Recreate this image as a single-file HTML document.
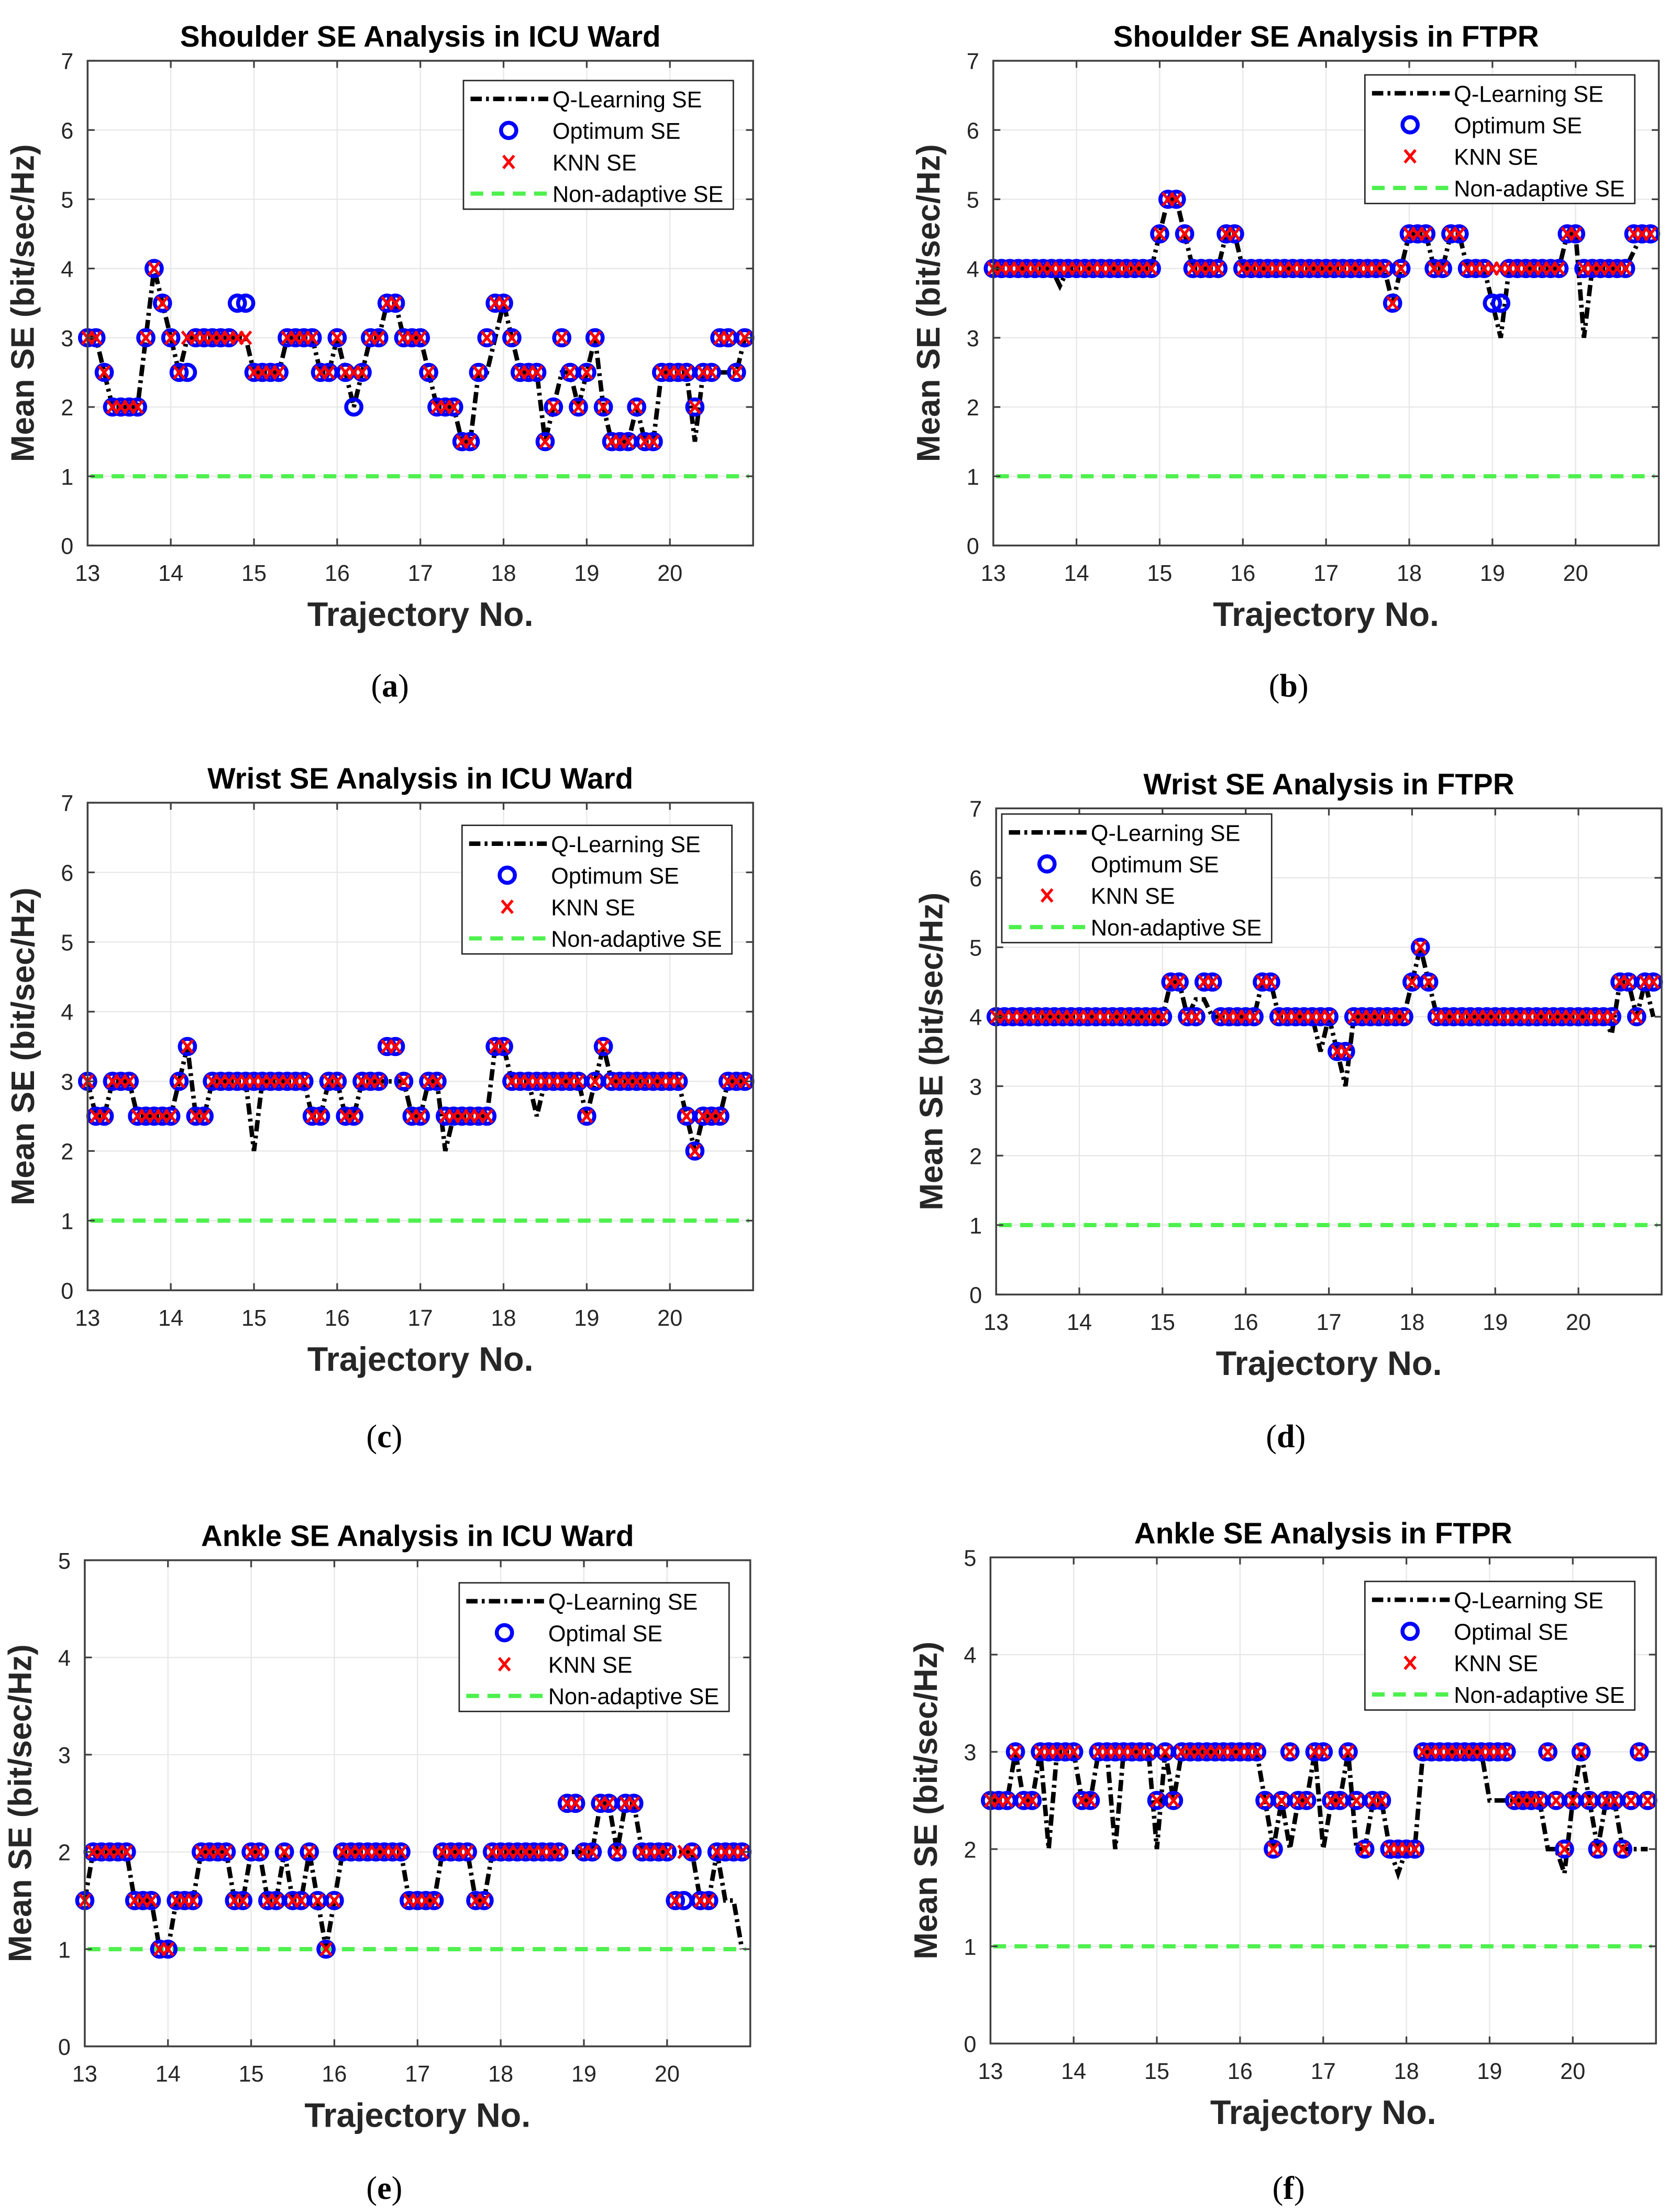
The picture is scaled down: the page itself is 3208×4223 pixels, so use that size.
<!DOCTYPE html>
<html><head><meta charset="utf-8"><style>
html,body{margin:0;padding:0;background:#fff;}
svg{display:block;font-family:"Liberation Sans",Arial,sans-serif;}
</style></head><body>
<svg id="fig" width="3208" height="4223" viewBox="0 0 1189 1565.2" xmlns="http://www.w3.org/2000/svg"></svg>
<script>
// Chart data (x = 13.0 .. 20.9 step 0.1)
const xStart = 13, xStep = 0.1;
const xTicks = [13,14,15,16,17,18,19,20];
const yTicks7 = [0,1,2,3,4,5,6,7];
const yTicks5 = [0,1,2,3,4,5];
const baseline = 1;

const aOpt = [3,3,2.5,2,2,2,2,3,4,3.5, 3,2.5,2.5,3,3,3,3,3,3.5,3.5, 2.5,2.5,2.5,2.5,3,3,3,3,2.5,2.5, 3,2.5,2,2.5,3,3,3.5,3.5,3,3, 3,2.5,2,2,2,1.5,1.5,2.5,3,3.5, 3.5,3,2.5,2.5,2.5,1.5,2,3,2.5,2, 2.5,3,2,1.5,1.5,1.5,2,1.5,1.5,2.5, 2.5,2.5,2.5,2,2.5,2.5,3,3,2.5,3];
const aKnn = [3,3,2.5,2,2,2,2,3,4,3.5, 3,2.5,3,3,3,3,3,3,3,3, 2.5,2.5,2.5,2.5,3,3,3,3,2.5,2.5, 3,2.5,2.5,2.5,3,3,3.5,3.5,3,3, 3,2.5,2,2,2,1.5,1.5,2.5,3,3.5, 3.5,3,2.5,2.5,2.5,1.5,2,3,2.5,2, 2.5,3,2,1.5,1.5,1.5,2,1.5,1.5,2.5, 2.5,2.5,2.5,2,2.5,2.5,3,3,2.5,3];
const aQ   = [3,3,2.5,2,2,2,2,3,4,3.5, 3,2.5,3,3,3,3,3,3,3,3, 2.5,2.5,2.5,2.5,3,3,3,3,2.5,2.5, 3,2.5,2,2.5,3,3,3.5,3.5,3,3, 3,2.5,2,2,2,1.5,1.5,2.5,2.5,3, 3.5,3,2.5,2.5,2.5,1.5,2,2.5,2.5,2, 2.5,3,2,1.5,1.5,1.5,2,1.5,1.5,2.5, 2.5,2.5,2.5,1.5,2.5,2.5,2.5,2.5,2.5,3];

const bOpt = [4,4,4,4,4,4,4,4,4,4, 4,4,4,4,4,4,4,4,4,4, 4.5,5,5,4.5,4,4,4,4,4.5,4.5, 4,4,4,4,4,4,4,4,4,4, 4,4,4,4,4,4,4,4,3.5,4, 4.5,4.5,4.5,4,4,4.5,4.5,4,4,4, 3.5,3.5,4,4,4,4,4,4,4,4.5, 4.5,4,4,4,4,4,4,4.5,4.5,4.5];
const bKnn = [4,4,4,4,4,4,4,4,4,4, 4,4,4,4,4,4,4,4,4,4, 4.5,5,5,4.5,4,4,4,4,4.5,4.5, 4,4,4,4,4,4,4,4,4,4, 4,4,4,4,4,4,4,4,3.5,4, 4.5,4.5,4.5,4,4,4.5,4.5,4,4,4, 4,4,4,4,4,4,4,4,4,4.5, 4.5,4,4,4,4,4,4,4.5,4.5,4.5];
const bQ   = [4,4,4,4,4,4,4,4,3.75,4, 4,4,4,4,4,4,4,4,4,4, 4.5,5,5,4.5,4,4,4,4,4.5,4.5, 4,4,4,4,4,4,4,4,4,4, 4,4,4,4,4,4,4,4,3.5,4, 4.5,4.5,4.5,4,4,4.5,4.5,4,4,4, 3.5,3,4,4,4,4,4,4,4,4.5, 4.5,3,4,4,4,4,4,4.25,4.5,4.5];

const cOpt = [3,2.5,2.5,3,3,3,2.5,2.5,2.5,2.5, 2.5,3,3.5,2.5,2.5,3,3,3,3,3, 3,3,3,3,3,3,3,2.5,2.5,3, 3,2.5,2.5,3,3,3,3.5,3.5,3,2.5, 2.5,3,3,2.5,2.5,2.5,2.5,2.5,2.5,3.5, 3.5,3,3,3,3,3,3,3,3,3, 2.5,3,3.5,3,3,3,3,3,3,3, 3,3,2.5,2,2.5,2.5,2.5,3,3,3];
const cKnn = [3,2.5,2.5,3,3,3,2.5,2.5,2.5,2.5, 2.5,3,3.5,2.5,2.5,3,3,3,3,3, 3,3,3,3,3,3,3,2.5,2.5,3, 3,2.5,2.5,3,3,3,3.5,3.5,3,2.5, 2.5,3,3,2.5,2.5,2.5,2.5,2.5,2.5,3.5, 3.5,3,3,3,3,3,3,3,3,3, 2.5,3,3.5,3,3,3,3,3,3,3, 3,3,2.5,2,2.5,2.5,2.5,3,3,3];
const cQ   = [3,2.5,2.5,3,3,3,2.5,2.5,2.5,2.5, 2.5,3,3.5,2.5,2.5,3,3,3,3,3, 2,3,3,3,3,3,3,2.5,2.5,3, 3,2.5,2.5,3,3,3,3,3,3,2.5, 2.5,3,3,2,2.5,2.5,2.5,2.5,2.5,3.5, 3.5,3,3,3,2.5,3,3,3,3,3, 2.5,3,3.5,3,3,3,3,3,3,3, 3,3,2.5,2,2.5,2.5,2.5,3,3,3];

const dOpt = [4,4,4,4,4,4,4,4,4,4, 4,4,4,4,4,4,4,4,4,4, 4,4.5,4.5,4,4,4.5,4.5,4,4,4, 4,4,4.5,4.5,4,4,4,4,4,4, 4,3.5,3.5,4,4,4,4,4,4,4, 4.5,5,4.5,4,4,4,4,4,4,4, 4,4,4,4,4,4,4,4,4,4, 4,4,4,4,4,4.5,4.5,4,4.5,4.5];
const dKnn = [4,4,4,4,4,4,4,4,4,4, 4,4,4,4,4,4,4,4,4,4, 4,4.5,4.5,4,4,4.5,4.5,4,4,4, 4,4,4.5,4.5,4,4,4,4,4,4, 4,3.5,3.5,4,4,4,4,4,4,4, 4.5,5,4.5,4,4,4,4,4,4,4, 4,4,4,4,4,4,4,4,4,4, 4,4,4,4,4,4.5,4.5,4,4.5,4.5];
const dQ   = [4,4,4,4,4,4,4,4,4,4, 4,4,4,4,4,4,4,4,4,4, 4,4.5,4.5,4,4.25,4.25,4,4,4,4, 4,4,4.5,4.5,4,4,4,4,4,3.5, 4,3.5,3,4,4,4,4,4,4,4, 4.5,5,4.5,4,4,4,4,4,4,4, 4,4,4,4,4,4,4,4,4,4, 4,4,4,4,3.75,4.5,4.5,4,4.5,4];

const eOpt = [1.5,2,2,2,2,2,1.5,1.5,1.5,1, 1,1.5,1.5,1.5,2,2,2,2,1.5,1.5, 2,2,1.5,1.5,2,1.5,1.5,2,1.5,1, 1.5,2,2,2,2,2,2,2,2,1.5, 1.5,1.5,1.5,2,2,2,2,1.5,1.5,2, 2,2,2,2,2,2,2,2,2.5,2.5, 2,2,2.5,2.5,2,2.5,2.5,2,2,2, 2,1.5,1.5,2,1.5,1.5,2,2,2,2];
const eKnn = [1.5,2,2,2,2,2,1.5,1.5,1.5,1, 1,1.5,1.5,1.5,2,2,2,2,1.5,1.5, 2,2,1.5,1.5,2,1.5,1.5,2,1.5,1, 1.5,2,2,2,2,2,2,2,2,1.5, 1.5,1.5,1.5,2,2,2,2,1.5,1.5,2, 2,2,2,2,2,2,2,2,2.5,2.5, 2,2,2.5,2.5,2,2.5,2.5,2,2,2, 2,1.5,2,2,1.5,1.5,2,2,2,2];
const eQ   = [1.5,2,2,2,2,2,1.5,1.5,1.5,1, 1,1.5,1.5,1.5,2,2,2,2,1.5,1.5, 2,2,1.5,1.5,2,1.5,1.5,2,1.5,1, 1.5,2,2,2,2,2,2,2,2,1.5, 1.5,1.5,1.5,2,2,2,2,1.5,1.5,2, 2,2,2,2,2,2,2,2,2,2, 2,2,2.5,2.5,2,2.5,2.5,2,2,2, 2,2,2,2,1.5,1.5,2,1.5,1.5,1];

const fOpt = [2.5,2.5,2.5,3,2.5,2.5,3,3,3,3, 3,2.5,2.5,3,3,3,3,3,3,3, 2.5,3,2.5,3,3,3,3,3,3,3, 3,3,3,2.5,2,2.5,3,2.5,2.5,3, 3,2.5,2.5,3,2.5,2,2.5,2.5,2,2, 2,2,3,3,3,3,3,3,3,3, 3,3,3,2.5,2.5,2.5,2.5,3,2.5,2, 2.5,3,2.5,2,2.5,2.5,2,2.5,3,2.5];
const fKnn = [2.5,2.5,2.5,3,2.5,2.5,3,3,3,3, 3,2.5,2.5,3,3,3,3,3,3,3, 2.5,3,2.5,3,3,3,3,3,3,3, 3,3,3,2.5,2,2.5,3,2.5,2.5,3, 3,2.5,2.5,3,2.5,2,2.5,2.5,2,2, 2,2,3,3,3,3,3,3,3,3, 3,3,3,2.5,2.5,2.5,2.5,3,2.5,2, 2.5,3,2.5,2,2.5,2.5,2,2.5,3,2.5];
const fQ   = [2.5,2.5,2.5,3,2.5,2.5,3,2,3,3, 3,2.5,2.5,3,3,2,3,3,3,3, 2,3,2.5,3,3,3,3,3,3,3, 3,3,3,2.5,2,2.5,2,2.5,2.5,3, 2,2.5,2.5,3,2,2,2.5,2.5,2,1.75, 2,2,3,3,3,3,3,3,3,3, 2.5,2.5,2.5,2.5,2.5,2.5,2.5,2,2,1.75, 2.5,3,2.5,2,2.5,2.5,2,2,2,2];

const charts = [
 {id:'a', title:'Shoulder SE Analysis in ICU Ward', ax:[62,43,471,343], ymax:7, yt:yTicks7, opt:aOpt, knn:aKnn, q:aQ, optName:'Optimum SE', leg:[328,57], lab:[276,486]},
 {id:'b', title:'Shoulder SE Analysis in FTPR', ax:[703,43,471,343], ymax:7, yt:yTicks7, opt:bOpt, knn:bKnn, q:bQ, optName:'Optimum SE', leg:[966,53], lab:[912,486]},
 {id:'c', title:'Wrist SE Analysis in ICU Ward', ax:[62,568,471,345], ymax:7, yt:yTicks7, opt:cOpt, knn:cKnn, q:cQ, optName:'Optimum SE', leg:[327,584], lab:[272,1017]},
 {id:'d', title:'Wrist SE Analysis in FTPR', ax:[705,572,471,344], ymax:7, yt:yTicks7, opt:dOpt, knn:dKnn, q:dQ, optName:'Optimum SE', leg:[709,576], lab:[910,1017]},
 {id:'e', title:'Ankle SE Analysis in ICU Ward', ax:[60,1104,471,344], ymax:5, yt:yTicks5, opt:eOpt, knn:eKnn, q:eQ, optName:'Optimal SE', leg:[325,1120], lab:[272,1549]},
 {id:'f', title:'Ankle SE Analysis in FTPR', ax:[701,1102,471,344], ymax:5, yt:yTicks5, opt:fOpt, knn:fKnn, q:fQ, optName:'Optimal SE', leg:[966,1119], lab:[912,1549]}
];

const NS='http://www.w3.org/2000/svg';
const svg=document.getElementById('fig');
function mk(tag, parent, attrs){const e=document.createElementNS(NS,tag);for(const k in attrs)e.setAttribute(k,attrs[k]);parent.appendChild(e);return e;}

charts.forEach(c=>{
  const g=mk('g',svg,{});
  
  
  const [X0,Y0,W,H]=c.ax;
  const sx=v=>X0+(v-13)/8*W;
  const sy=v=>Y0+H-v/c.ymax*H;
  const plot=mk('rect',g,{x:X0,y:Y0,width:W,height:H,fill:'#fff'});
  
  
  for(let t=13;t<=21;t++){const l=mk('line',g,{x1:sx(t),x2:sx(t),y1:Y0,y2:Y0+H,stroke:'#e6e6e6','stroke-width':0.8});
    
    }
  c.yt.forEach(t=>{const l=mk('line',g,{x1:X0,x2:X0+W,y1:sy(t),y2:sy(t),stroke:'#e6e6e6','stroke-width':0.8});
    
    });
  const nb=mk('line',g,{x1:X0+2,x2:X0+W-3,y1:sy(baseline),y2:sy(baseline),stroke:'#4df04d','stroke-width':3,'stroke-dasharray':'9 6'});
  
  
  const pts=c.q.map((v,i)=>sx(xStart+i*xStep).toFixed(2)+','+sy(v).toFixed(2)).join(' ');
  const ql=mk('polyline',g,{points:pts,fill:'none',stroke:'#000','stroke-width':3.2,'stroke-dasharray':'8 3 2 3'});
  
  
  c.opt.forEach((v,i)=>{const ci=mk('circle',g,{cx:sx(xStart+i*xStep),cy:sy(v),r:5.4,fill:'none',stroke:'#0000ff','stroke-width':2.8});
    
    });
  c.knn.forEach((v,i)=>{const x=sx(xStart+i*xStep),y=sy(v);
    const p=mk('path',g,{d:`M${x-3.8},${y-4.5}L${x+3.8},${y+4.5}M${x-3.8},${y+4.5}L${x+3.8},${y-4.5}`,stroke:'#ff0000','stroke-width':2});
    
    });
  const box=mk('rect',g,{x:X0,y:Y0,width:W,height:H,fill:'none',stroke:'#404040','stroke-width':1.3});
  
  
  xTicks.forEach(t=>{const tx=mk('text',g,{x:sx(t),y:Y0+H+25,'font-size':16,'text-anchor':'middle',fill:'#262626'});tx.textContent=t;
    
    
    mk('line',g,{x1:sx(t),x2:sx(t),y1:Y0+H,y2:Y0+H-5,stroke:'#404040','stroke-width':1.2});
    mk('line',g,{x1:sx(t),x2:sx(t),y1:Y0,y2:Y0+5,stroke:'#404040','stroke-width':1.2});});
  c.yt.forEach(t=>{const tx=mk('text',g,{x:X0-10,y:sy(t)+6,'font-size':16,'text-anchor':'end',fill:'#262626'});tx.textContent=t;
    
    
    mk('line',g,{x1:X0,x2:X0+5,y1:sy(t),y2:sy(t),stroke:'#404040','stroke-width':1.2});
    mk('line',g,{x1:X0+W,x2:X0+W-5,y1:sy(t),y2:sy(t),stroke:'#404040','stroke-width':1.2});});
  const ti=mk('text',g,{x:X0+W/2,y:Y0-10,'font-size':21,'font-weight':'bold','text-anchor':'middle',fill:'#000'});ti.textContent=c.title;
  
  
  const xl=mk('text',g,{x:X0+W/2,y:Y0+H+57,'font-size':24,'font-weight':'bold','text-anchor':'middle',fill:'#262626'});xl.textContent='Trajectory No.';
  
  
  const yx=X0-38, yy=Y0+H/2;
  const yl=mk('text',g,{x:yx,y:yy,'font-size':23,'font-weight':'bold','text-anchor':'middle',fill:'#262626',transform:`rotate(-90 ${yx} ${yy})`});yl.textContent='Mean SE (bit/sec/Hz)';
  
  
  const [lx,ly]=c.leg;
  const lg=mk('g',g,{});
  
  
  mk('rect',lg,{x:lx,y:ly,width:191,height:91,fill:'#fff',stroke:'#262626','stroke-width':1});
  const names=['Q-Learning SE',c.optName,'KNN SE','Non-adaptive SE'];
  names.forEach((n,k)=>{const yy2=ly+13+k*22.3;
    const t=mk('text',lg,{x:lx+63,y:yy2+6,'font-size':16,fill:'#000'});t.textContent=n;
    
    });
  mk('line',lg,{x1:lx+5,x2:lx+60,y1:ly+13,y2:ly+13,stroke:'#000','stroke-width':3.2,'stroke-dasharray':'8 3 2 3'});
  mk('circle',lg,{cx:lx+32,cy:ly+35.3,r:5.4,fill:'none',stroke:'#0000ff','stroke-width':2.8});
  const kx=lx+32,ky=ly+57.6;
  mk('path',lg,{d:`M${kx-3.8},${ky-4.5}L${kx+3.8},${ky+4.5}M${kx-3.8},${ky+4.5}L${kx+3.8},${ky-4.5}`,stroke:'#ff0000','stroke-width':2});
  mk('line',lg,{x1:lx+5,x2:lx+60,y1:ly+80,y2:ly+80,stroke:'#4df04d','stroke-width':3,'stroke-dasharray':'9 6'});
  const pl=mk('text',svg,{x:c.lab[0],y:c.lab[1]+7,'font-size':23,'text-anchor':'middle','font-family':'"Liberation Serif",serif',fill:'#000'});
  
  
  const p1=mk('tspan',pl,{});p1.textContent='(';
  const p2=mk('tspan',pl,{'font-weight':'bold'});p2.textContent=c.id;
  const p3=mk('tspan',pl,{});p3.textContent=')';
});
</script>
</body></html>
